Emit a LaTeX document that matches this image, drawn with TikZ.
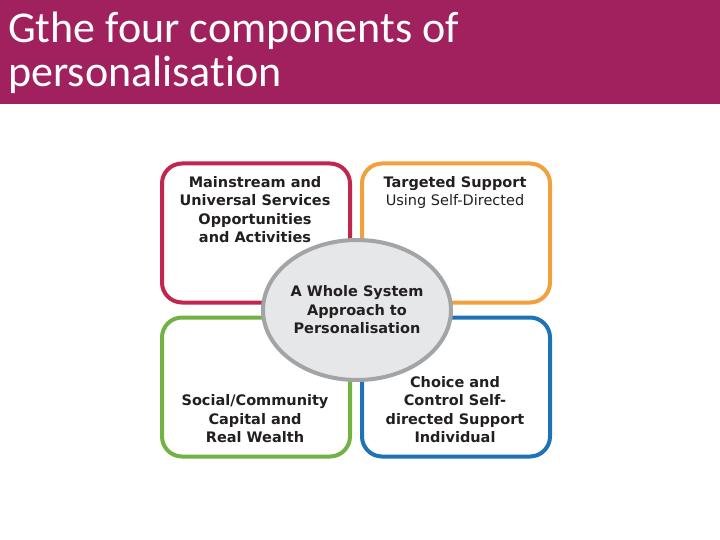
\documentclass[tikz,border=0pt]{standalone}
\usepackage{fontspec}
\setmainfont{DejaVu Sans}
\newfontfamily\titlefont[Ligatures=NoCommon]{Carlito}
\usetikzlibrary{shapes.geometric}
\definecolor{plum}{HTML}{A0215E}
\definecolor{cred}{HTML}{C1264F}
\definecolor{corange}{HTML}{F0A03C}
\definecolor{cgreen}{HTML}{72B244}
\definecolor{cblue}{HTML}{1E73B7}
\definecolor{egray}{HTML}{E6E7E8}
\definecolor{eline}{HTML}{A3A4A6}
\definecolor{txt}{HTML}{231F20}
\tikzset{
  quad/.style={draw, line width=4pt, rounded corners=20pt, minimum width=188pt, minimum height=139pt, fill=white},
  lbl/.style={align=center, text=txt, font=\fontsize{14.5}{18.5}\selectfont\bfseries, inner sep=0pt},
  ttl/.style={anchor=base west, text=white, font=\titlefont\fontsize{44}{44}\selectfont, inner sep=0pt},
}
\begin{document}
\begin{tikzpicture}[x=1pt,y=-1pt]
\useasboundingbox (0,0) rectangle (720,540);
\fill[white] (0,0) rectangle (720,540);
\fill[plum] (0,0) rectangle (720,104);
\node[ttl] (title1) at (8,43) {Gthe four components of};
\node[ttl] (title2) at (8,87) {personalisation};

\node[quad, draw=cred] (tl) at (256,233) {};
\node[quad, draw=corange] (tr) at (456,233) {};
\node[quad, draw=cgreen] (bl) at (256,387) {};
\node[quad, draw=cblue] (br) at (456,387) {};

\node[ellipse, draw=eline, fill=egray, line width=4pt, minimum width=188pt, minimum height=140pt, inner sep=0pt] (center) at (357,310) {};

\node[lbl, anchor=north] (tltext) at (255,176) {Mainstream and\\Universal Services\\Opportunities\\and Activities};
\node[lbl, anchor=north] (trtext) at (455,176) {Targeted Support\\\mdseries Using Self-Directed};
\node[lbl] (ctext) at (357,310) {A Whole System\\Approach to\\Personalisation};
\node[lbl, anchor=south] (bltext) at (255,443) {Social/Community\\Capital and\\Real Wealth};
\node[lbl, anchor=south] (brtext) at (455,443) {Choice and\\Control Self-\\directed Support\\Individual};
\end{tikzpicture}
\end{document}
